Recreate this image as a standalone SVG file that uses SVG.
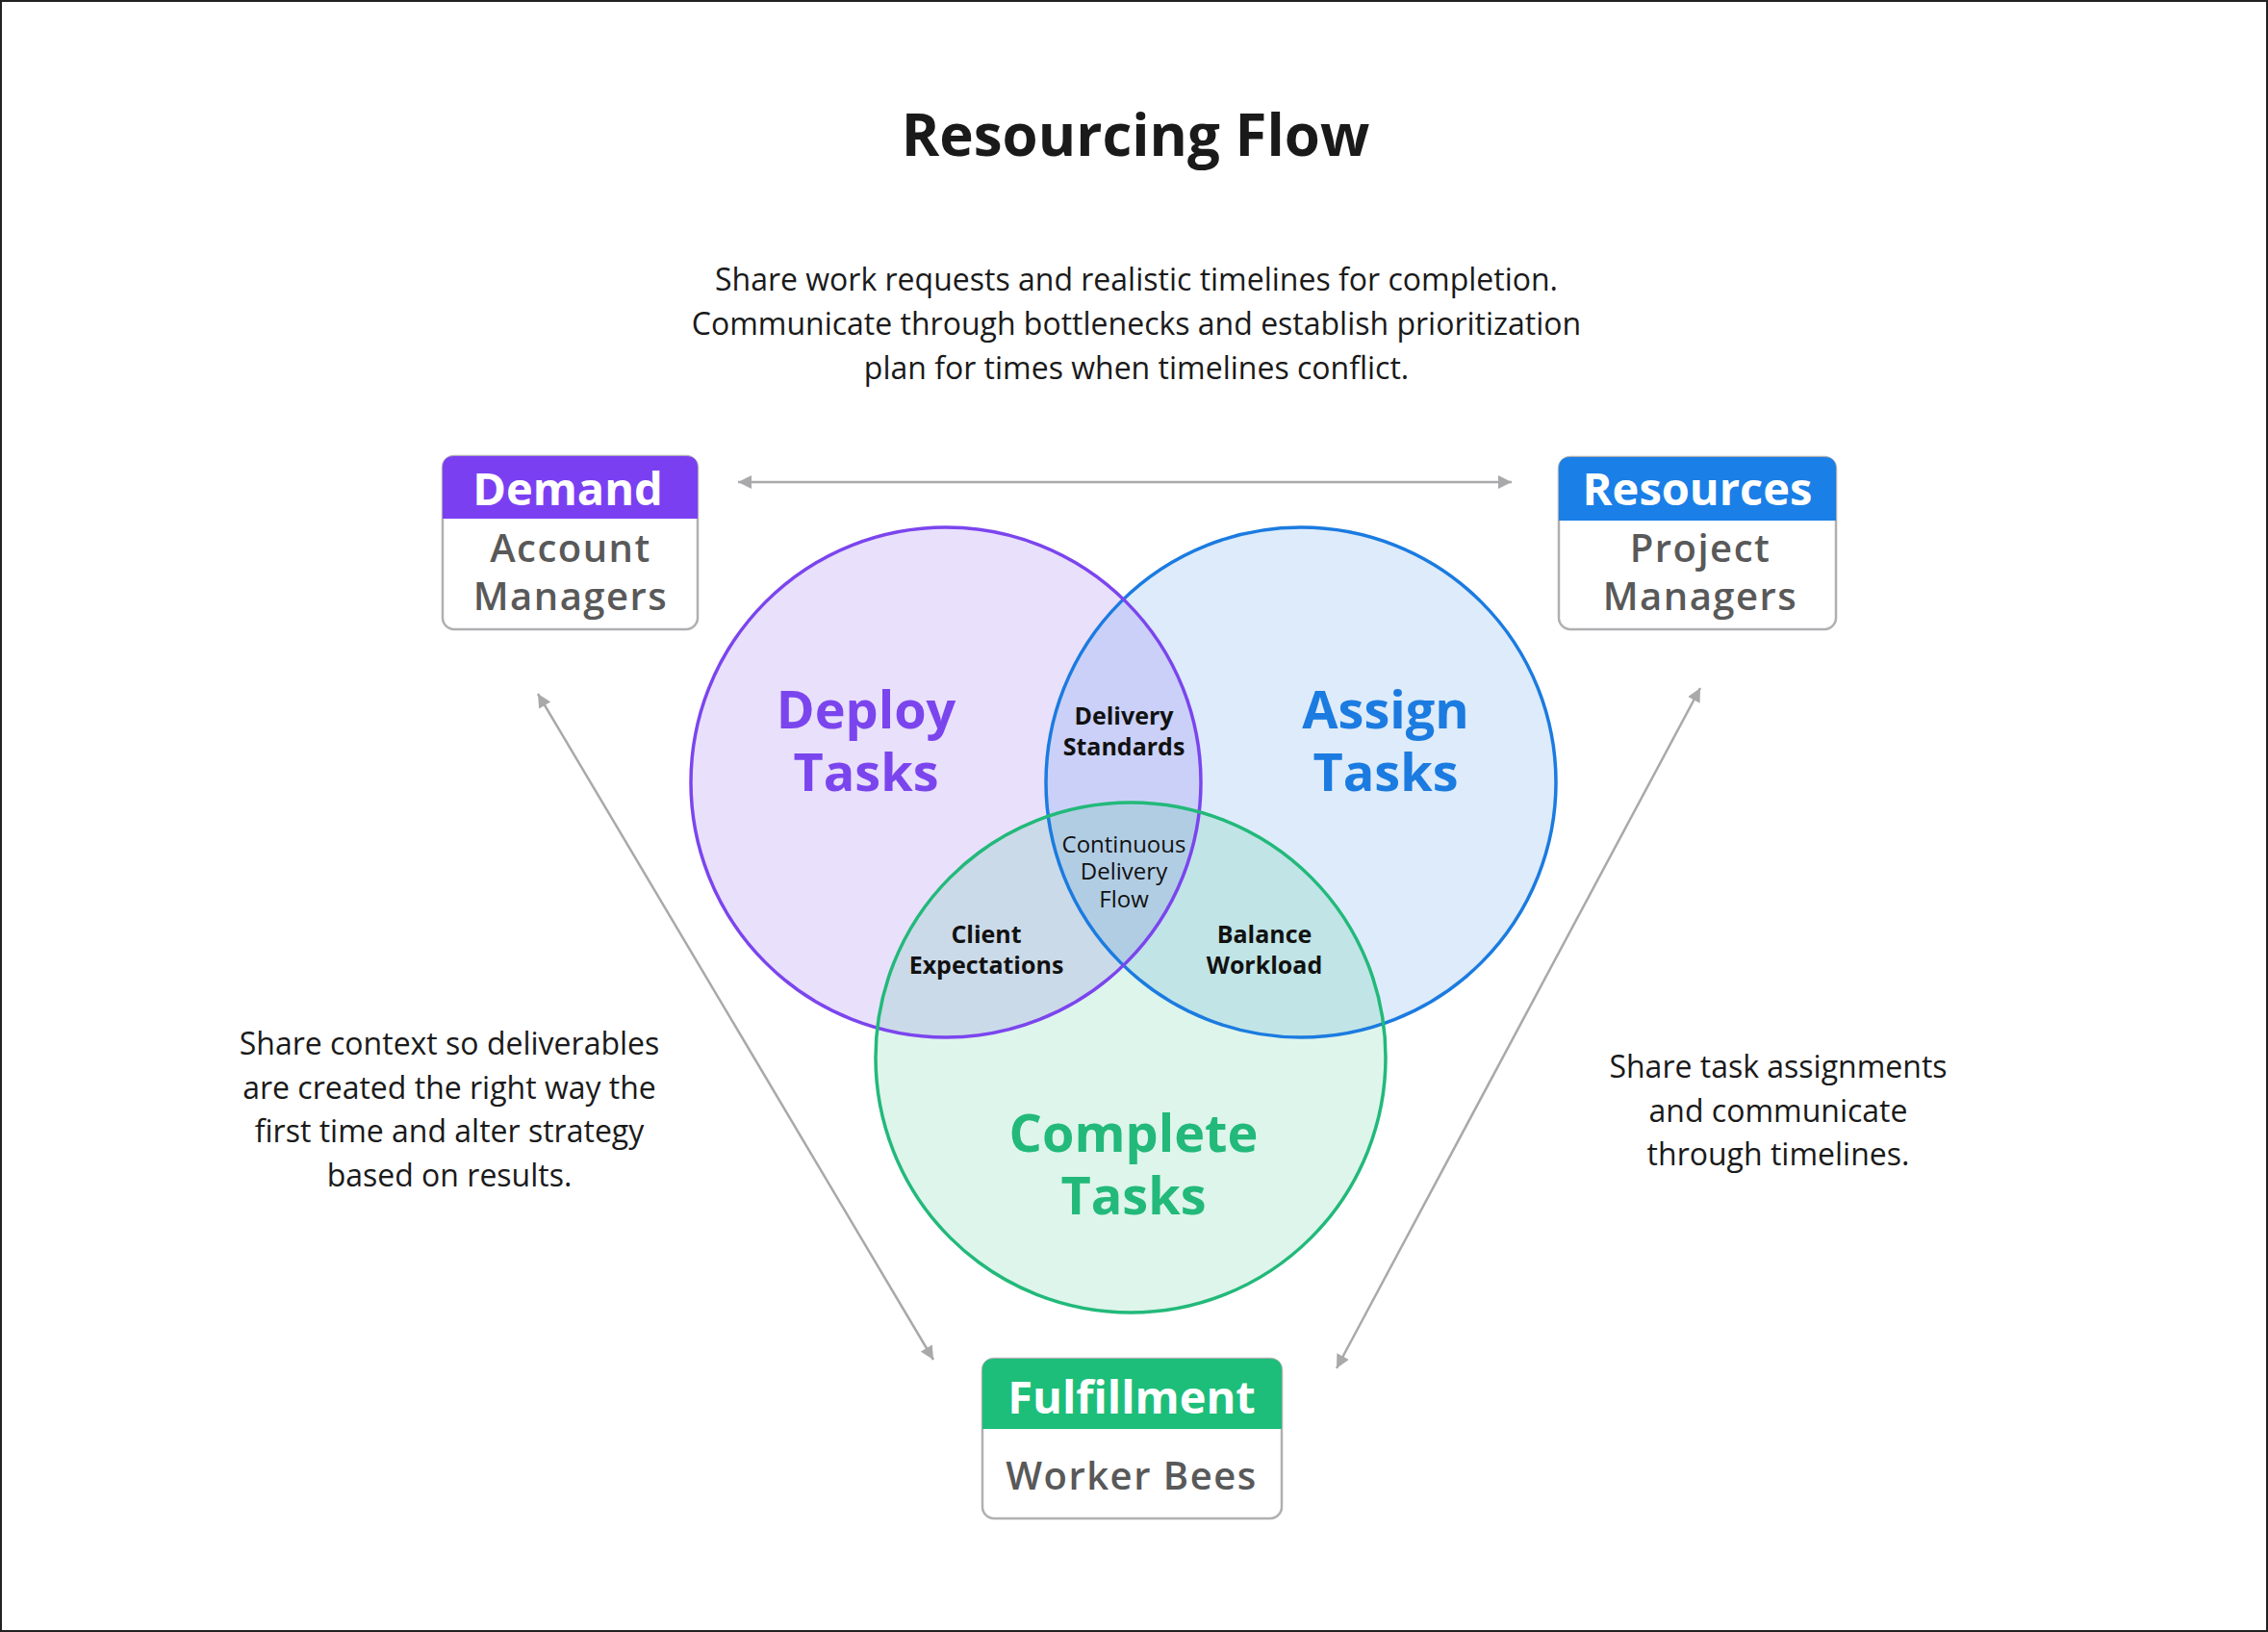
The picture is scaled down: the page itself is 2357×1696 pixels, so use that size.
<svg xmlns="http://www.w3.org/2000/svg" width="2357" height="1696" viewBox="0 0 2357 1696">
<defs>
<marker id="ah" viewBox="0 0 10 10" refX="10" refY="5" markerWidth="16" markerHeight="14" markerUnits="userSpaceOnUse" orient="auto-start-reverse">
<path d="M0,0 L10,5 L0,10 z" fill="#a9a9ab"/>
</marker>
<style>
.desc{font-family:"Open Sans","Liberation Sans",sans-serif;font-size:32px;fill:#1a1a1a;text-anchor:middle}
.title{font-family:"Open Sans","Liberation Sans",sans-serif;font-size:60px;font-weight:700;fill:#1a1a1a;text-anchor:middle}
.hdr{font-family:"Open Sans","Liberation Sans",sans-serif;font-size:47px;font-weight:700;fill:#ffffff;text-anchor:middle}
.sub{font-family:"Open Sans","Liberation Sans",sans-serif;font-size:40px;font-weight:600;fill:#595959;text-anchor:middle;letter-spacing:1.5px}
.box{fill:#ffffff;stroke:#b0b0b2;stroke-width:2.5}
.big{font-family:"Open Sans","Liberation Sans",sans-serif;font-size:54px;font-weight:700;text-anchor:middle}
.sm{font-family:"Open Sans","Liberation Sans",sans-serif;font-size:25px;font-weight:700;fill:#111111;text-anchor:middle}
.smr{font-family:"Open Sans","Liberation Sans",sans-serif;font-size:24px;font-weight:400;fill:#111111;text-anchor:middle}
.conn{stroke:#a9a9ab;stroke-width:2.5;fill:none}
</style>
</defs>
<rect x="1" y="1" width="2355" height="1694" fill="#ffffff" stroke="#222222" stroke-width="2"/>
<text class="title" x="1180" y="162">Resourcing Flow</text>
<g id="top-text">
<text class="desc" x="1181" y="302"><tspan x="1181" y="302">Share work requests and realistic timelines for completion.</tspan><tspan x="1181" y="348">Communicate through bottlenecks and establish prioritization</tspan><tspan x="1181" y="394">plan for times when timelines conflict.</tspan></text>
</g>
<g id="left-text">
<text class="desc" x="467" y="1096"><tspan x="467" y="1096">Share context so deliverables</tspan><tspan x="467" y="1142">are created the right way the</tspan><tspan x="467" y="1187">first time and alter strategy</tspan><tspan x="467" y="1233">based on results.</tspan></text>
</g>
<g id="right-text">
<text class="desc" x="1848" y="1120"><tspan x="1848" y="1120">Share task assignments</tspan><tspan x="1848" y="1166">and communicate</tspan><tspan x="1848" y="1211">through timelines.</tspan></text>
</g>
<g id="connectors">
<line class="conn" x1="767" y1="501" x2="1571" y2="501" marker-start="url(#ah)" marker-end="url(#ah)"/>
<line class="conn" x1="559" y1="721" x2="970" y2="1413" marker-start="url(#ah)" marker-end="url(#ah)"/>
<line class="conn" x1="1767" y1="715" x2="1389" y2="1422" marker-start="url(#ah)" marker-end="url(#ah)"/>
</g>
<g id="venn">
<circle cx="983" cy="813" r="265" fill="#7B45EE" fill-opacity="0.17"/>
<circle cx="1352" cy="813" r="265" fill="#1B7BE0" fill-opacity="0.15"/>
<circle cx="1175" cy="1099" r="265" fill="#22B97A" fill-opacity="0.15"/>
<circle cx="1352" cy="813" r="265" fill="none" stroke="#1B7BE0" stroke-width="3.5"/>
<circle cx="983" cy="813" r="265" fill="none" stroke="#7B45EE" stroke-width="3.5"/>
<circle cx="1175" cy="1099" r="265" fill="none" stroke="#22B97A" stroke-width="3.5"/>
</g>
<g id="deploy-tasks">
<text class="big" fill="#7B45EE" x="900" y="757"><tspan x="900" y="757">Deploy</tspan><tspan x="900" y="822">Tasks</tspan></text>
</g>
<g id="assign-tasks">
<text class="big" fill="#1B7BE0" x="1440" y="757"><tspan x="1440" y="757">Assign</tspan><tspan x="1440" y="822">Tasks</tspan></text>
</g>
<g id="complete-tasks">
<text class="big" fill="#22B97A" x="1178" y="1197"><tspan x="1178" y="1197">Complete</tspan><tspan x="1178" y="1262">Tasks</tspan></text>
</g>
<g id="delivery-standards">
<text class="sm" x="1168" y="753"><tspan x="1168" y="753">Delivery</tspan><tspan x="1168" y="785">Standards</tspan></text>
</g>
<g id="continuous-delivery-flow">
<text class="smr" x="1168" y="886"><tspan x="1168" y="886">Continuous</tspan><tspan x="1168" y="914">Delivery</tspan><tspan x="1168" y="943">Flow</tspan></text>
</g>
<g id="client-expectations">
<text class="sm" x="1025" y="980"><tspan x="1025" y="980">Client</tspan><tspan x="1025" y="1012">Expectations</tspan></text>
</g>
<g id="balance-workload">
<text class="sm" x="1314" y="980"><tspan x="1314" y="980">Balance</tspan><tspan x="1314" y="1012">Workload</tspan></text>
</g>
<g id="demand">
<rect class="box" x="460" y="474" width="265" height="180" rx="12"/>
<path d="M460,539 V486 Q460,474 472,474 H713 Q725,474 725,486 V539 Z" fill="#7B3FF2"/>
<text class="hdr" x="590" y="525">Demand</text>
<text class="sub" x="593" y="584"><tspan x="593" y="584">Account</tspan><tspan x="593" y="634">Managers</tspan></text>
</g>
<g id="resources">
<rect class="box" x="1620" y="475" width="288" height="179" rx="12"/>
<path d="M1620,541 V487 Q1620,475 1632,475 H1896 Q1908,475 1908,487 V541 Z" fill="#1A7FE6"/>
<text class="hdr" x="1764" y="525">Resources</text>
<text class="sub" x="1767" y="584"><tspan x="1767" y="584">Project</tspan><tspan x="1767" y="634">Managers</tspan></text>
</g>
<g id="fulfillment">
<rect class="box" x="1021" y="1412" width="311" height="166" rx="12"/>
<path d="M1021,1485 V1424 Q1021,1412 1033,1412 H1320 Q1332,1412 1332,1424 V1485 Z" fill="#1DBE7A"/>
<text class="hdr" x="1176" y="1469">Fulfillment</text>
<text class="sub" x="1176" y="1548">Worker Bees</text>
</g>
</svg>
